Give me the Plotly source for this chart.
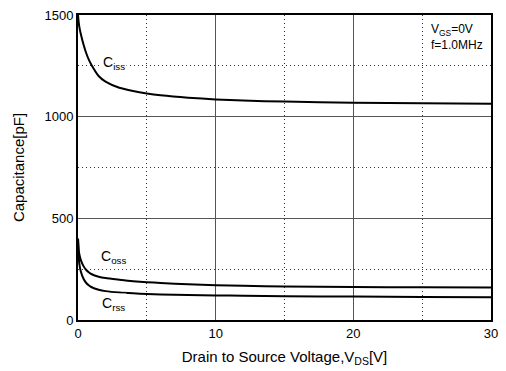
import plotly.graph_objects as go

# Drain-source voltage sweep [V]
vds = [0, 0.05, 0.1, 0.2, 0.4, 0.6, 0.8, 1.0, 1.5, 2, 3, 4, 5, 6, 8, 10, 12, 15, 20, 25, 30]

# Capacitances [pF]
ciss = [1500, 1465, 1440, 1408, 1355, 1312, 1278, 1252, 1200, 1172, 1142, 1126, 1114, 1105, 1093, 1085, 1079, 1074, 1069, 1066, 1064]
coss = [400, 345, 322, 296, 265, 246, 234, 225, 213, 206, 198, 191, 186, 182, 176, 171, 168, 165, 162, 161, 160]
crss = [400, 315, 275, 240, 203, 182, 170, 161, 149, 142, 135, 131, 128, 126, 123, 121, 119, 117, 115, 113, 112]

curve_labels = ["C<sub>iss</sub>", "C<sub>oss</sub>", "C<sub>rss</sub>"]
label_x = [2.6, 2.6, 2.6]
label_y = [1265, 310, 80]

FONT = "Liberation Sans, Arial, sans-serif"

fig = go.Figure()
for ys in (ciss, coss, crss):
    fig.add_trace(go.Scatter(x=vds, y=ys, mode="lines",
                             line=dict(color="black", width=2, shape="spline", smoothing=0.6),
                             showlegend=False, hoverinfo="skip"))

for txt, lx, ly in zip(curve_labels, label_x, label_y):
    fig.add_annotation(x=lx, y=ly, text=txt, showarrow=False,
                       font=dict(family=FONT, size=14, color="black"),
                       xanchor="center", yanchor="middle", bgcolor="white")

fig.add_annotation(x=0.985, y=0.985, xref="paper", yref="paper",
                   text="V<sub>GS</sub>=0V<br>f=1.0MHz", showarrow=False,
                   align="left", xanchor="right", yanchor="top",
                   font=dict(family=FONT, size=12, color="black"))

axis_common = dict(
    showline=True, linecolor="black", linewidth=2, mirror=True,
    ticks="", zeroline=False,
    tickfont=dict(family=FONT, size=13, color="black"),
    showgrid=True, gridcolor="#555555", gridwidth=1,
)

dotted = dict(showgrid=True, griddash="1px,3px", gridcolor="#333333", gridwidth=1)

fig.update_xaxes(range=[0, 30], dtick=10, tick0=0,
                 minor=dict(dtick=5, **dotted),
                 title=dict(text="Drain to Source Voltage,V<sub>DS</sub>[V]",
                            font=dict(family=FONT, size=15, color="black"), standoff=12),
                 **axis_common)
fig.update_yaxes(range=[0, 1500], dtick=500, tick0=0,
                 minor=dict(dtick=250, **dotted),
                 title=dict(text="Capacitance[pF]",
                            font=dict(family=FONT, size=15, color="black"), standoff=16),
                 **axis_common)

fig.update_layout(width=506, height=371,
                  margin=dict(l=78, r=8, t=14, b=49),
                  paper_bgcolor="white", plot_bgcolor="white")

fig.write_html("out.html")
